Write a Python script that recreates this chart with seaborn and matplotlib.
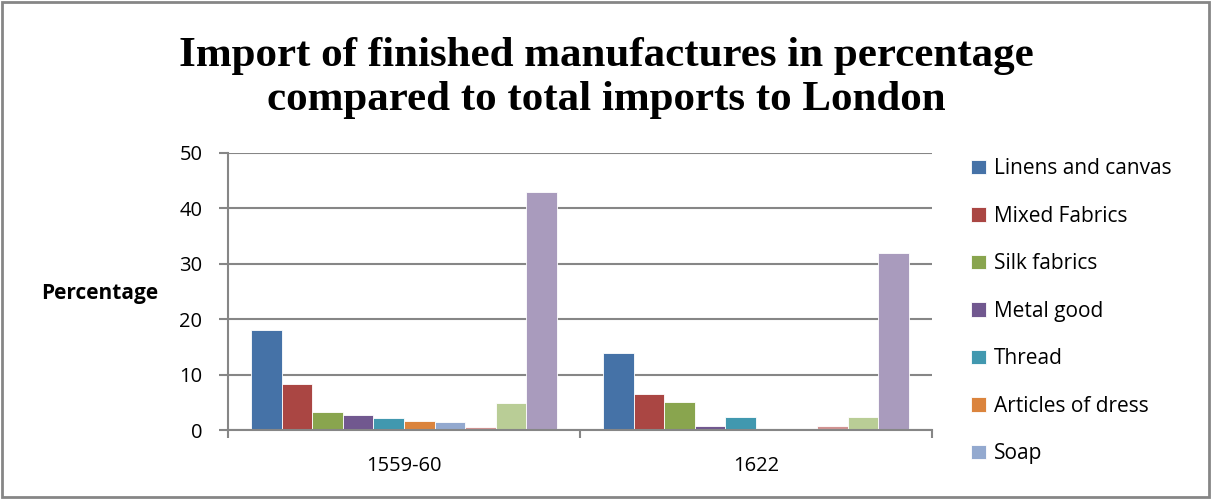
import matplotlib
matplotlib.use("Agg")
import matplotlib.pyplot as plt
import seaborn as sns
import pandas as pd
from matplotlib.patches import Rectangle
from matplotlib.ticker import MultipleLocator, FixedLocator

periods = ["1559-60", "1622"]
categories = ["Linens and canvas", "Mixed Fabrics", "Silk fabrics", "Metal good",
              "Thread", "Articles of dress", "Soap", "Series 8", "Series 9", "Series 10"]
values_1559 = [18.0, 8.25, 3.25, 2.7, 2.2, 1.7, 1.45, 0.5, 4.9, 43.0]
values_1622 = [13.85, 6.5, 5.1, 0.65, 2.3, 0.0, 0.0, 0.65, 2.4, 32.0]
colors = ["#4572A7", "#AA4643", "#89A54E", "#71588F", "#4198AF",
          "#DB843D", "#93A9CF", "#D19392", "#B9CD96", "#A99BBD"]
legend_count = 7

rows = []
for cat, v1, v2 in zip(categories, values_1559, values_1622):
    rows.append({"period": periods[0], "category": cat, "value": v1})
    rows.append({"period": periods[1], "category": cat, "value": v2})
df = pd.DataFrame(rows)

sns.set_theme(style="white")
plt.rcParams["font.family"] = ["Open Sans", "DejaVu Sans"]
plt.rcParams["text.color"] = "black"
plt.rcParams["xtick.color"] = "black"
plt.rcParams["ytick.color"] = "black"

fig = plt.figure(figsize=(12.12, 4.99), dpi=100)
ax = fig.add_axes([228 / 1212, 1 - 430 / 499, (932 - 228) / 1212, (430 - 153) / 499])

sns.barplot(data=df, x="period", y="value", hue="category", hue_order=categories,
            order=periods, palette=colors, saturation=1, width=0.867, ax=ax,
            edgecolor="white", linewidth=0.6, errorbar=None)

grid_c = "#868686"
ax.set_ylim(0, 50)
ax.set_xlim(-0.5, 1.5)
ax.yaxis.set_major_locator(MultipleLocator(10))
ax.grid(axis="y", color=grid_c, linewidth=1.5)
ax.set_axisbelow(True)
for s in ["top", "right"]:
    ax.spines[s].set_visible(False)
for s in ["left", "bottom"]:
    ax.spines[s].set_color(grid_c)
    ax.spines[s].set_linewidth(1.5)

ax.tick_params(axis="y", which="major", length=6.5, width=1.5, color=grid_c,
               pad=12, labelsize=14.5, labelcolor="black", left=True)
ax.tick_params(axis="x", which="major", length=0, pad=19, labelsize=14.5, labelcolor="black")
ax.xaxis.set_minor_locator(FixedLocator([-0.5, 0.5, 1.5]))
ax.tick_params(axis="x", which="minor", length=6, width=1.5, color=grid_c, bottom=True)

ax.set_xlabel("")
ax.set_ylabel("")
fig.text(100 / 1212, 1 - 294 / 499, "Percentage", ha="center", va="center",
         fontsize=15, fontweight="bold", color="black")

handles, labels = ax.get_legend_handles_labels()
ax.get_legend().remove()
fig.legend(handles[:legend_count], labels[:legend_count], loc="upper left",
           bbox_to_anchor=(963 / 1212, 1 - 150 / 499), frameon=False,
           fontsize=15, handlelength=0.7, handleheight=0.7,
           handletextpad=0.4, labelspacing=1.27, borderaxespad=0)

fig.text(0.5, 1 - 78 / 499, "Import of finished manufactures in percentage\ncompared to total imports to London",
         ha="center", va="center", fontsize=31, fontweight="bold", color="black",
         family=["Liberation Serif", "DejaVu Serif"], linespacing=1.2)

fig.patches.append(Rectangle((2 / 1212, 2 / 499), 1207 / 1212, 495 / 499,
                             transform=fig.transFigure, fill=False,
                             edgecolor=grid_c, linewidth=2))

fig.savefig("out.png", dpi=100, facecolor="white")
